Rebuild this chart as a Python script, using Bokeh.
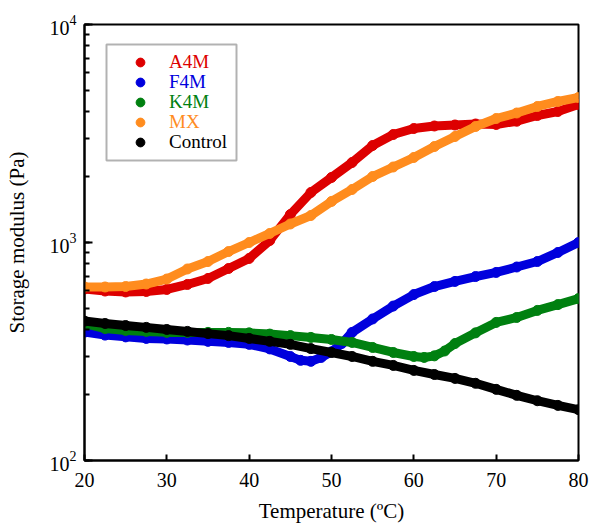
from bokeh.plotting import figure
from bokeh.models import Legend, LegendItem, BoxAnnotation, SingleIntervalTicker, LogTicker, ColumnDataSource
from bokeh.embed import file_html
from bokeh.resources import INLINE

# Temperature (ºC) grids
temp_std = [20, 22.5, 25, 27.5, 30, 32.5, 35, 37.5, 40, 42.5, 45, 47.5, 50,
            52.5, 55, 57.5, 60, 62.5, 65, 67.5, 70, 72.5, 75, 77.5, 80]
temp_f4m = [20, 22.5, 25, 27.5, 30, 32.5, 35, 37.5, 40, 42.5, 45, 46.25, 47.5,
            48.75, 50, 51.25, 52.5, 55, 57.5, 60, 62.5, 65, 67.5, 70, 72.5, 75, 77.5, 80]
temp_k4m = [20, 22.5, 25, 27.5, 30, 32.5, 35, 37.5, 40, 42.5, 45, 47.5, 50,
            52.5, 55, 57.5, 60, 61.25, 62.5, 63.75, 65, 67.5, 70, 72.5, 75, 77.5, 80]

# Storage modulus (Pa)
a4m = [612, 599, 593, 596, 609, 642, 684, 760, 845, 1021, 1344, 1696, 1987,
       2328, 2786, 3129, 3333, 3423, 3459, 3496, 3478, 3600, 3824, 3990, 4295]
f4m = [388, 376, 369, 363, 361, 357, 352, 348, 341, 325, 300, 288, 285,
       297, 315, 344, 387, 446, 511, 577, 628, 663, 698, 729, 772, 818, 900, 1000]
k4m = [425, 403, 395, 391, 387, 387, 387, 387, 385, 380, 374, 367, 359,
       348, 330, 313, 300, 297, 302, 318, 344, 385, 430, 453, 488, 519, 553]
mx = [625, 625, 628, 645, 680, 756, 818, 909, 1000, 1100, 1216, 1330, 1543,
      1751, 2008, 2220, 2455, 2756, 3064, 3405, 3705, 3927, 4206, 4435, 4626]
control = [436, 425, 416, 408, 399, 391, 382, 374, 363, 352, 341, 326, 313,
           300, 285, 273, 259, 248, 238, 226, 212, 199, 188, 179, 171]

series_names = ["A4M", "F4M", "K4M", "MX", "Control"]
series_temps = [temp_std, temp_f4m, temp_k4m, temp_std, temp_std]
series_values = [a4m, f4m, k4m, mx, control]
series_colors = ["#DD0000", "#0000DD", "#008010", "#FF8C1E", "#000000"]

FONT = "Liberation Serif"

p = figure(width=589, height=528, x_range=(20, 80), y_range=(100, 10000),
           y_axis_type="log", output_backend="svg", toolbar_location=None,
           min_border_left=84, min_border_right=11, min_border_top=24,
           min_border_bottom=68)
p.xgrid.visible = False
p.ygrid.visible = False
p.outline_line_color = "black"
p.outline_line_width = 2
p.outline_line_alpha = 1
p.background_fill_color = "white"
p.border_fill_color = "white"

scatter_renderers = []
for i in range(len(series_names)):
    src = ColumnDataSource(dict(x=series_temps[i], y=series_values[i]))
    p.line("x", "y", source=src, line_color=series_colors[i], line_width=9,
           line_cap="round", line_join="round")
    r = p.scatter("x", "y", source=src, size=10, marker="circle",
                  fill_color=series_colors[i], line_color=series_colors[i])
    scatter_renderers.append(r)

# axes
for ax in (p.xaxis[0], p.yaxis[0]):
    ax.axis_line_width = 2
    ax.axis_line_color = "black"
    ax.major_tick_line_width = 2
    ax.minor_tick_line_width = 2
    ax.major_tick_out = 0
    ax.minor_tick_out = 0
    ax.major_label_text_font = FONT
    ax.major_label_text_font_size = "20px"
    ax.major_label_text_color = "black"
    ax.axis_label_text_font = FONT
    ax.axis_label_text_font_size = "21px"
    ax.axis_label_text_font_style = "normal"
    ax.axis_label_text_color = "black"

p.xaxis[0].ticker = SingleIntervalTicker(interval=10, num_minor_ticks=0)
p.xaxis[0].major_tick_in = 6
p.xaxis[0].minor_tick_in = 0
p.xaxis[0].major_label_standoff = 12
p.xaxis[0].axis_label = "Temperature (ºC)"
p.xaxis[0].axis_label_standoff = 9

p.yaxis[0].ticker = LogTicker(num_minor_ticks=10)
p.yaxis[0].major_tick_in = 8
p.yaxis[0].minor_tick_in = 5
p.yaxis[0].major_label_standoff = 8
p.yaxis[0].axis_label = "Storage modulus (Pa)"
p.yaxis[0].axis_label_standoff = 18

# legend frame (screen units relative to plot frame)
p.add_layout(BoxAnnotation(left=22, right=152, top=416, bottom=300,
                           left_units="screen", right_units="screen",
                           top_units="screen", bottom_units="screen",
                           fill_alpha=0, line_color="black", line_width=2))

for k in range(len(series_names)):
    leg = Legend(items=[LegendItem(label=series_names[k], renderers=[scatter_renderers[k]])],
                 location=(45, 387 - 20 * k), margin=0, padding=0, spacing=0,
                 glyph_width=22, glyph_height=22, label_height=22,
                 label_standoff=18, border_line_alpha=0, background_fill_alpha=0,
                 label_text_font=FONT, label_text_font_size="19px",
                 label_text_color=series_colors[k])
    p.add_layout(leg, "center")

open("out.html", "w").write(file_html(p, INLINE))
